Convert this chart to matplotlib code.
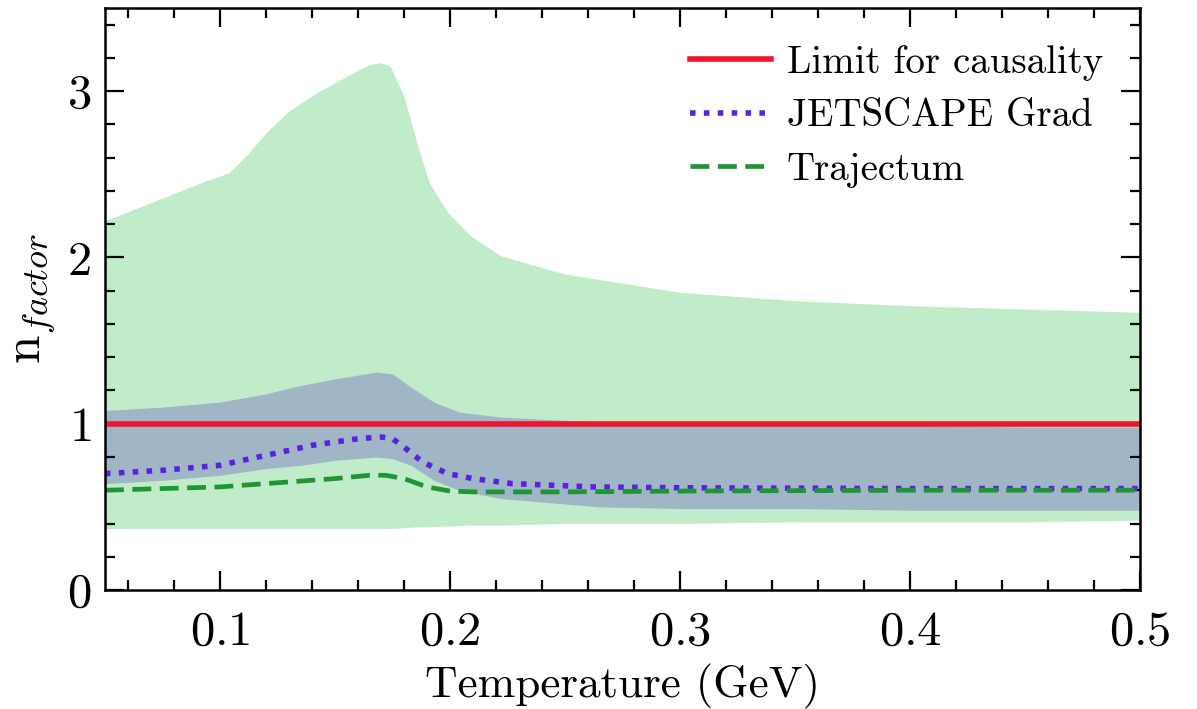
import matplotlib
matplotlib.use("Agg")
import matplotlib.pyplot as plt
from matplotlib.ticker import MultipleLocator

plt.rcParams["font.family"] = "serif"
plt.rcParams["font.serif"] = ["cmr10", "DejaVu Serif"]
plt.rcParams["mathtext.fontset"] = "cm"
plt.rcParams["axes.formatter.use_mathtext"] = True

# outer (light green) band
T_outer = [0.05, 0.07, 0.09, 0.104, 0.112, 0.12, 0.13, 0.142, 0.1565, 0.165, 0.1696, 0.174,
           0.18, 0.186, 0.191, 0.199, 0.209, 0.222, 0.25, 0.3, 0.35, 0.4, 0.45, 0.5]
outer_hi = [2.22, 2.33, 2.44, 2.51, 2.62, 2.75, 2.88, 2.99, 3.10, 3.16, 3.17, 3.15,
            2.97, 2.67, 2.45, 2.27, 2.13, 2.01, 1.90, 1.79, 1.74, 1.71, 1.69, 1.67]
outer_lo = [0.37, 0.37, 0.37, 0.37, 0.37, 0.37, 0.37, 0.37, 0.37, 0.37, 0.37, 0.37,
            0.375, 0.38, 0.38, 0.385, 0.39, 0.39, 0.40, 0.40, 0.41, 0.41, 0.41, 0.42]

# inner (grey-blue) band
T_inner = [0.05, 0.075, 0.1, 0.12, 0.135, 0.15, 0.168, 0.175, 0.183, 0.193, 0.204,
           0.222, 0.265, 0.3, 0.35, 0.4, 0.45, 0.5]
inner_hi = [1.08, 1.10, 1.13, 1.18, 1.23, 1.27, 1.31, 1.30, 1.22, 1.13, 1.07,
            1.04, 1.01, 1.00, 0.99, 0.99, 0.98, 0.98]
inner_lo = [0.64, 0.66, 0.69, 0.73, 0.75, 0.78, 0.80, 0.79, 0.75, 0.66, 0.60,
            0.55, 0.50, 0.49, 0.49, 0.48, 0.48, 0.48]

# JETSCAPE Grad
T_jet = [0.05, 0.075, 0.1, 0.12, 0.14, 0.16, 0.17, 0.175, 0.18, 0.188, 0.199,
         0.21, 0.227, 0.262, 0.3, 0.4, 0.5]
eta_jet = [0.70, 0.72, 0.75, 0.81, 0.87, 0.91, 0.92, 0.91, 0.86, 0.77, 0.70,
           0.67, 0.64, 0.62, 0.615, 0.61, 0.61]

# Trajectum
T_traj = [0.05, 0.075, 0.1, 0.125, 0.15, 0.165, 0.172, 0.18, 0.19, 0.2, 0.21,
          0.25, 0.3, 0.4, 0.5]
eta_traj = [0.60, 0.61, 0.62, 0.645, 0.67, 0.69, 0.69, 0.67, 0.62, 0.595, 0.59,
            0.59, 0.595, 0.60, 0.60]

limit = 1.0

fig = plt.figure(figsize=(11.97, 7.09), dpi=100)
ax = fig.add_axes([0.0877, 0.1678, 0.8647, 0.821])

ax.fill_between(T_outer, outer_lo, outer_hi, color="#c1ecca", lw=0)
ax.fill_between(T_inner, inner_lo, inner_hi, color="#a0b5c5", lw=0)
ax.axhline(limit, color="#f0142c", lw=4, label="Limit for causality")
ax.plot(T_jet, eta_jet, ls=(0, (1, 1.5)), color="#5a22e0", lw=4, label="JETSCAPE Grad")
ax.plot(T_traj, eta_traj, ls=(0, (4, 1.8)), color="#1e9636", lw=3.4, label="Trajectum")

ax.set_xlim(0.05, 0.5)
ax.set_ylim(0, 3.5)
ax.xaxis.set_major_locator(MultipleLocator(0.1))
ax.xaxis.set_minor_locator(MultipleLocator(0.02))
ax.yaxis.set_major_locator(MultipleLocator(1))
ax.yaxis.set_minor_locator(MultipleLocator(0.2))
ax.tick_params(which="both", direction="in", top=True, right=True, width=1.6,
               labelsize=35)
ax.tick_params(axis="x", pad=15)
ax.tick_params(axis="y", pad=10)
ax.tick_params(which="major", length=14)
ax.tick_params(which="minor", length=7)
for s in ax.spines.values():
    s.set_linewidth(1.8)

ax.set_xlabel("Temperature (GeV)", fontsize=32.5, labelpad=6)
ax.set_ylabel(r"$\mathrm{n}_{factor}$", fontsize=37, labelpad=6)

leg = ax.legend(loc="upper right", fontsize=28, frameon=False, handlelength=2.1,
                handletextpad=0.4, labelspacing=0.45, borderaxespad=0.55)

fig.savefig("out.png", dpi=100)
